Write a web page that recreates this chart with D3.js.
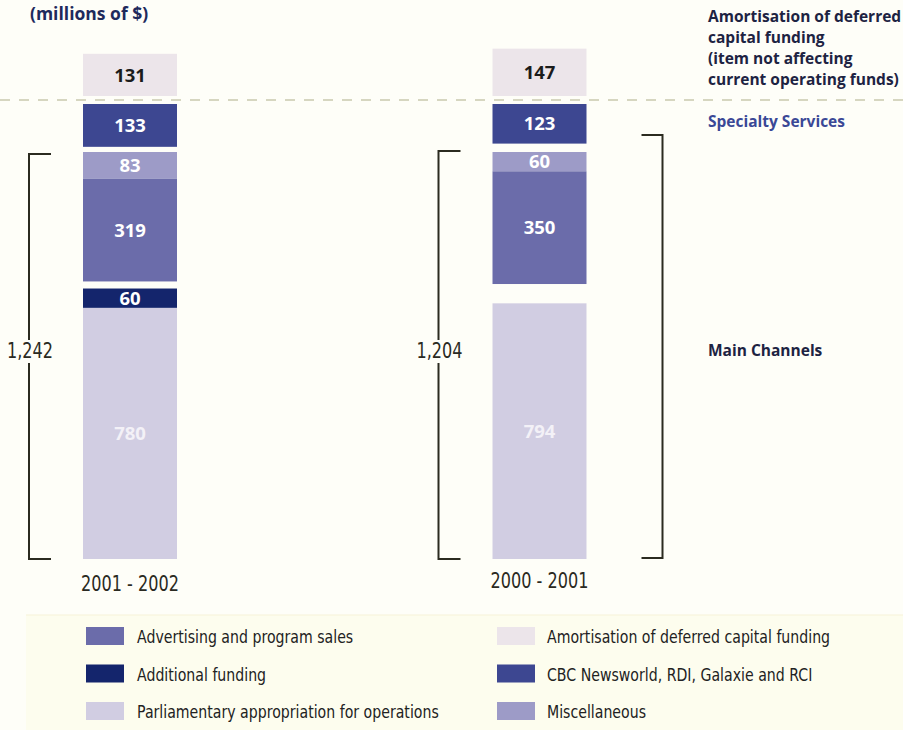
<!DOCTYPE html>
<html><head><meta charset="utf-8">
<script src="https://cdn.jsdelivr.net/npm/d3@7"></script>
<style>
html,body{margin:0;padding:0;background:#fefef8;}
svg{display:block;}
.cond{font-family:"DejaVu Sans",sans-serif;}
.bold{font-family:"Open Sans","Noto Sans",sans-serif;font-weight:700;}
</style></head>
<body>
<svg id="chart" width="903" height="730"></svg>
<script>
// ---------- data ----------
const years = ["2001 - 2002", "2000 - 2001"];
const amortisation = [131, 147];          // above dashed line
const specialty = [133, 123];             // CBC Newsworld, RDI, Galaxie and RCI
const parliamentary = [780, 794];
const additionalFunding = [60, 0];
const advertising = [319, 350];
const miscellaneous = [83, 60];
const mainTotals = ["1,242", "1,204"];

const legendLeft = ["Advertising and program sales", "Additional funding", "Parliamentary appropriation for operations"];
const legendRight = ["Amortisation of deferred capital funding", "CBC Newsworld, RDI, Galaxie and RCI", "Miscellaneous"];

const colors = {
  "Advertising and program sales": "#6b6caa",
  "Additional funding": "#14256c",
  "Parliamentary appropriation for operations": "#d1cde2",
  "Amortisation of deferred capital funding": "#ece5ea",
  "CBC Newsworld, RDI, Galaxie and RCI": "#3d4791",
  "Miscellaneous": "#9d9bc7"
};

// ---------- layout ----------
const svg = d3.select("#chart");
const W = 903, H = 730;
svg.append("rect").attr("width", W).attr("height", H).attr("fill", "#fefef8");

const h = d3.scaleLinear().domain([0, 1000]).range([0, 322]); // value -> pixel height
const x = d3.scalePoint().domain(years).range([130, 539.5]);
const bw = 94;
const SX = 0.785; // horizontal condensing for the condensed face

const mainBottom = 559, mainTop = 152, specTop = 104, amortBottom = 96, dashY = 100;

function condText(parent, tx, ty, str, size, anchor, fill) {
  return parent.append("text").attr("class", "cond")
    .attr("transform", `translate(${tx},${ty}) scale(${SX},1)`)
    .attr("dy", "0.36em").attr("text-anchor", anchor).attr("font-size", size)
    .attr("fill", fill).text(str);
}

// title
svg.append("text").attr("class", "bold").attr("x", 30).attr("y", 20)
  .attr("font-size", 17.5).attr("fill", "#1e2a5c").text("(millions of $)");

// dashed line
svg.append("line").attr("x1", 0).attr("x2", W).attr("y1", dashY).attr("y2", dashY)
  .attr("stroke", "#c9c9ad").attr("stroke-width", 1.5).attr("stroke-dasharray", "10,9");

// build segments
const segs = [];
years.forEach((yr, i) => {
  const cx = x(yr);
  segs.push({yr, key: legendRight[0], v: amortisation[i], y0: amortBottom - h(amortisation[i]), cx, dark: true});
  segs.push({yr, key: legendRight[1], v: specialty[i], y0: specTop, cx});
  let yb = mainBottom;
  [[legendLeft[2], parliamentary[i], true], [legendLeft[1], additionalFunding[i], false]].forEach(([k, v, pale]) => {
    if (v > 0) { yb -= h(v); segs.push({yr, key: k, v, y0: yb, cx, pale}); }
  });
  let yt = mainTop;
  [[legendRight[2], miscellaneous[i]], [legendLeft[0], advertising[i]]].forEach(([k, v]) => {
    if (v > 0) { segs.push({yr, key: k, v, y0: yt, cx}); yt += h(v); }
  });
});

svg.append("g").selectAll("rect").data(segs).join("rect")
  .attr("x", d => d.cx - bw / 2).attr("y", d => d.y0)
  .attr("width", bw).attr("height", d => h(d.v))
  .attr("fill", d => colors[d.key]);

svg.append("g").selectAll("text").data(segs).join("text")
  .attr("class", "bold")
  .attr("x", d => d.cx).attr("y", d => d.y0 + h(d.v) / 2)
  .attr("dy", "0.36em").attr("text-anchor", "middle").attr("font-size", 18.5)
  .attr("fill", d => d.dark ? "#1b1b1b" : (d.pale ? "#f3f1f7" : "#ffffff"))
  .text(d => d.v);

// year labels
years.forEach((yr, i) => condText(svg, x(yr), i === 0 ? 584 : 581, yr, 20.5, "middle", "#2a2a22"));

// brackets
const bstroke = "#2b2b20";
function bracket(xv, tick, y1, y2, gapMid) {
  const g = svg.append("g").attr("fill", "none").attr("stroke", bstroke).attr("stroke-width", 2);
  g.append("path").attr("d", `M${xv + tick},${y1}H${xv}V${gapMid ? gapMid[0] : y2}` + (gapMid ? `M${xv},${gapMid[1]}` : "") + `V${y2}H${xv + tick}`);
}
years.forEach((yr, i) => {
  const left = x(yr) - bw / 2;
  const bx = left - 54;
  bracket(bx, 22, i === 0 ? 154 : 151, mainBottom, [340, 363]);
  condText(svg, bx + 1, 351, mainTotals[i], 20.5, "middle", "#2a2a22");
});
{
  const rx = x(years[1]) + bw / 2 + 76;
  bracket(rx, -21, 135, mainBottom - 1, null);
}

// right-hand labels
const rl = svg.append("g").attr("class", "bold").attr("font-size", 15.5).attr("fill", "#1d2342").attr("font-weight", 600);
["Amortisation of deferred", "capital funding", "(item not affecting", "current operating funds)"].forEach((t, i) => {
  rl.append("text").attr("x", 708).attr("y", 22 + i * 21).text(t);
});
rl.append("text").attr("x", 708).attr("y", 127).attr("fill", "#3a4896").text("Specialty Services");
rl.append("text").attr("x", 708).attr("y", 356).text("Main Channels");

// legend band
svg.append("rect").attr("x", 26).attr("y", 615).attr("width", W - 26).attr("height", H - 615).attr("fill", "#fdfdee");
svg.append("line").attr("x1", 26).attr("x2", W).attr("y1", 615).attr("y2", 615).attr("stroke", "#f7f3d8").attr("stroke-width", 1);

const legCols = [{items: legendLeft, sx: 86, tx: 137}, {items: legendRight, sx: 497, tx: 547}];
legCols.forEach(col => {
  const g = svg.append("g");
  col.items.forEach((k, i) => {
    const cy = 636 + i * 37.5;
    g.append("rect").attr("x", col.sx).attr("y", cy - 9).attr("width", 38).attr("height", 18).attr("fill", colors[k]);
    condText(g, col.tx, cy + 1, k, 18, "start", "#222");
  });
});
</script>
</body></html>
